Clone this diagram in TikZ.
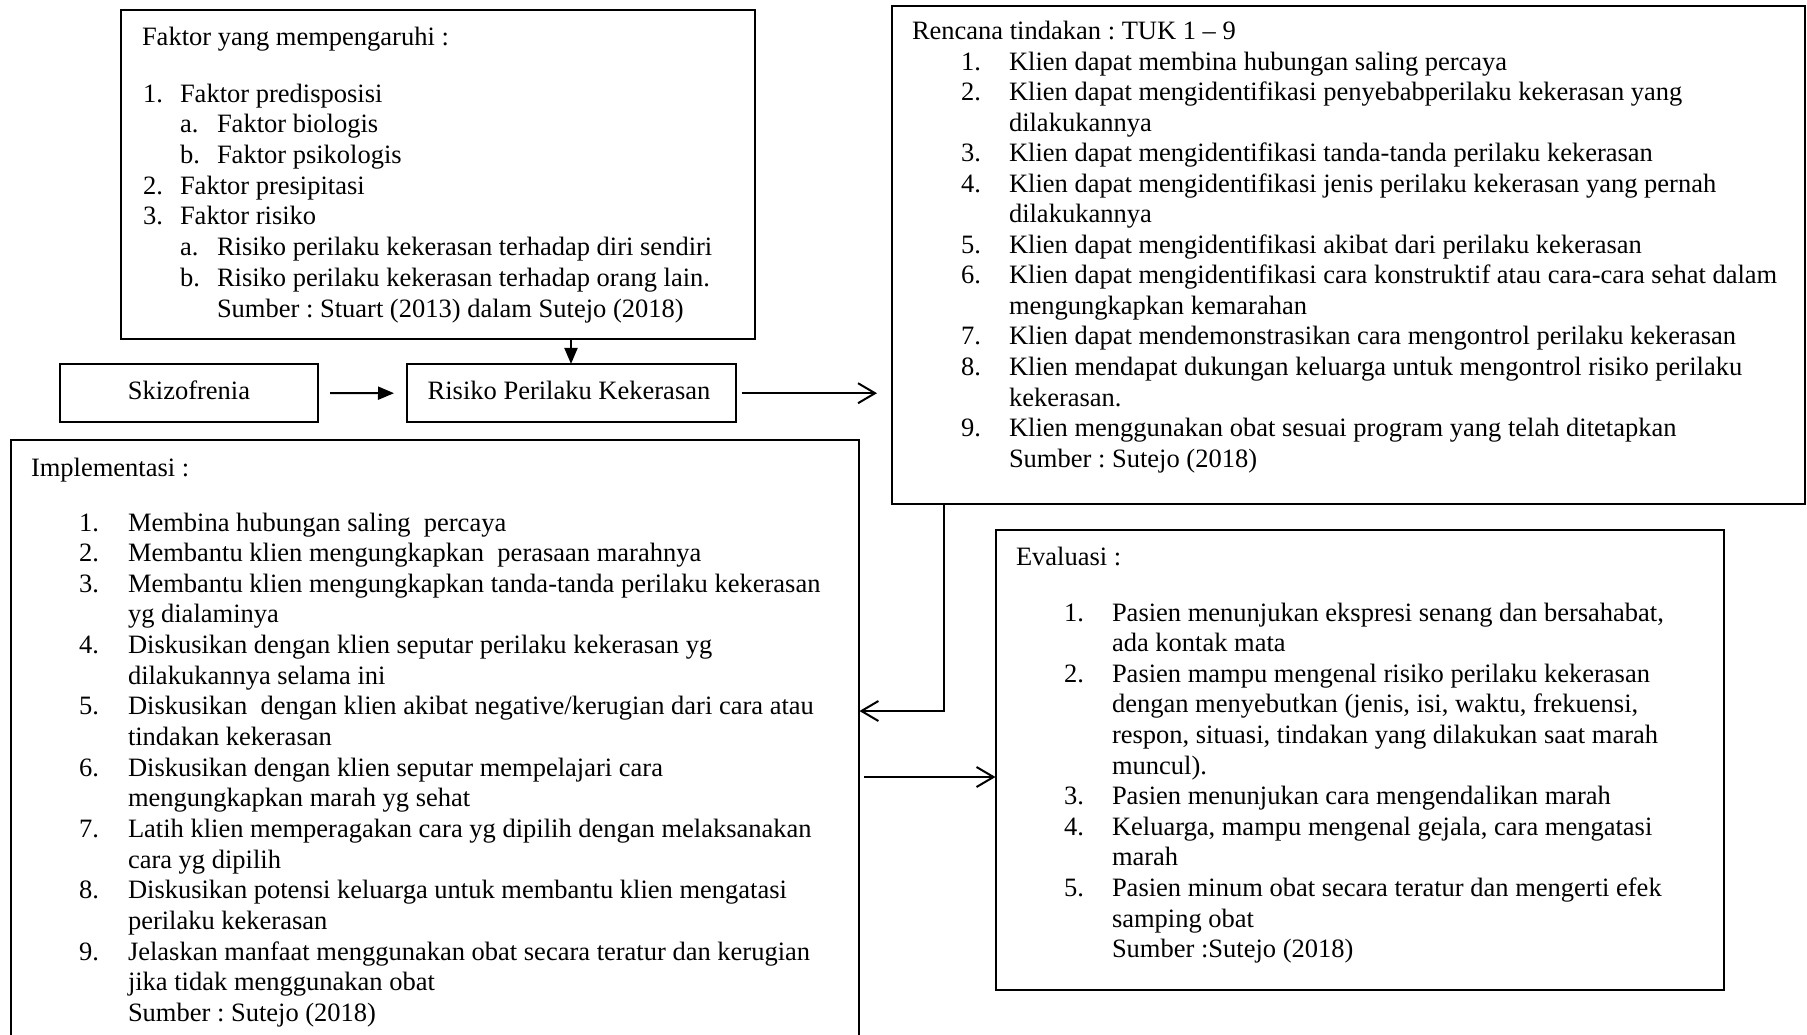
\documentclass[tikz,border=0pt]{standalone}
\usepackage{fontspec}
\setmainfont{Liberation Serif}
\usetikzlibrary{arrows.meta,calc}
\frenchspacing
\newcommand\fs{\fontsize{26.5}{30.7}\selectfont\frenchspacing}
\tikzset{
  box/.style={draw, line width=2pt, rectangle, inner sep=0pt, outer sep=0pt},
  txt/.style={anchor=base west, inner sep=0pt, outer sep=0pt, font=\fs},
  ctxt/.style={anchor=base, inner sep=0pt, outer sep=0pt, font=\fs},
  arr/.style={line width=2pt, -{Triangle[length=16pt,width=13pt]}},
  oarr/.style={line width=2pt, -{Straight Barb[length=17pt,width=20pt]}}
}
\begin{document}
\begin{tikzpicture}[x=1pt,y=-1pt]
\useasboundingbox (0,0) rectangle (1807,1034);
\fill[white] (0,0) rectangle (1807,1034);

% boxes
\node[box, minimum width=634pt, minimum height=329pt] (fak) at (438,174.5) {};
\node[box, minimum width=258pt, minimum height=58pt] (skz) at (189,393) {};
\node[box, minimum width=329pt, minimum height=58.5pt] (rpk) at (571,393.2) {};
\node[box, line width=2.4pt, minimum width=913pt, minimum height=498pt] (ren) at (1348.5,255) {};
\node[box, minimum width=848.5pt, minimum height=640pt] (imp) at (435.2,760) {};
\node[box, minimum width=728pt, minimum height=460pt] (eva) at (1359.5,760) {};

% Faktor box text
\node[txt] (f0) at (142,45) {Faktor yang mempengaruhi :};
\node[txt] (f1n) at (143,102) {1.};
\node[txt] (f1t) at (180,102) {Faktor predisposisi};
\node[txt] (f2n) at (180,132.7) {a.};
\node[txt] (f2t) at (217,132.7) {Faktor biologis};
\node[txt] (f3n) at (180,163.4) {b.};
\node[txt] (f3t) at (217,163.4) {Faktor psikologis};
\node[txt] (f4n) at (143,194) {2.};
\node[txt] (f4t) at (180,194) {Faktor presipitasi};
\node[txt] (f5n) at (143,224.8) {3.};
\node[txt] (f5t) at (180,224.8) {Faktor risiko};
\node[txt] (f6n) at (180,255.5) {a.};
\node[txt] (f6t) at (217,255.5) {Risiko perilaku kekerasan terhadap diri sendiri};
\node[txt] (f7n) at (180,286.2) {b.};
\node[txt] (f7t) at (217,286.2) {Risiko perilaku kekerasan terhadap orang lain.};
\node[txt] (f8t) at (217,317) {Sumber : Stuart (2013) dalam Sutejo (2018)};

% small boxes text
\node[ctxt] (skzt) at (189,399) {Skizofrenia};
\node[ctxt] (rpkt) at (569,399) {Risiko Perilaku Kekerasan};

% Rencana box text
\node[txt] (r0) at (912,39) {Rencana tindakan : TUK 1 – 9};
\foreach \nm/\tx [count=\k from 0] in {
  {1.}/{Klien dapat membina hubungan saling percaya},
  {2.}/{Klien dapat mengidentifikasi penyebabperilaku kekerasan yang},
  {}/{dilakukannya},
  {3.}/{Klien dapat mengidentifikasi tanda-tanda perilaku kekerasan},
  {4.}/{Klien dapat mengidentifikasi jenis perilaku kekerasan yang pernah},
  {}/{dilakukannya},
  {5.}/{Klien dapat mengidentifikasi akibat dari perilaku kekerasan},
  {6.}/{Klien dapat mengidentifikasi cara konstruktif atau cara-cara sehat dalam},
  {}/{mengungkapkan kemarahan},
  {7.}/{Klien dapat mendemonstrasikan cara mengontrol perilaku kekerasan},
  {8.}/{Klien mendapat dukungan keluarga untuk mengontrol risiko perilaku},
  {}/{kekerasan.},
  {9.}/{Klien menggunakan obat sesuai program yang telah ditetapkan},
  {}/{Sumber : Sutejo (2018)}}{
  \node[txt] (rn\k) at (961,{70+30.55*\k}) {\nm};
  \node[txt] (rt\k) at (1009,{70+30.55*\k}) {\tx};
}

% Implementasi box text
\node[txt] (i0) at (31,476) {Implementasi :};
\foreach \nm/\tx [count=\k from 0] in {
  {1.}/{Membina hubungan saling~ percaya},
  {2.}/{Membantu klien mengungkapkan~ perasaan marahnya},
  {3.}/{Membantu klien mengungkapkan tanda-tanda perilaku kekerasan},
  {}/{yg dialaminya},
  {4.}/{Diskusikan dengan klien seputar perilaku kekerasan yg},
  {}/{dilakukannya selama ini},
  {5.}/{Diskusikan~ dengan klien akibat negative/kerugian dari cara atau},
  {}/{tindakan kekerasan},
  {6.}/{Diskusikan dengan klien seputar mempelajari cara},
  {}/{mengungkapkan marah yg sehat},
  {7.}/{Latih klien memperagakan cara yg dipilih dengan melaksanakan},
  {}/{cara yg dipilih},
  {8.}/{Diskusikan potensi keluarga untuk membantu klien mengatasi},
  {}/{perilaku kekerasan},
  {9.}/{Jelaskan manfaat menggunakan obat secara teratur dan kerugian},
  {}/{jika tidak menggunakan obat},
  {}/{Sumber : Sutejo (2018)}}{
  \node[txt] (in\k) at (79,{531+30.65*\k}) {\nm};
  \node[txt] (it\k) at (128,{531+30.65*\k}) {\tx};
}

% Evaluasi box text
\node[txt] (e0) at (1016,565) {Evaluasi :};
\foreach \nm/\tx [count=\k from 0] in {
  {1.}/{Pasien menunjukan ekspresi senang dan bersahabat,},
  {}/{ada kontak mata},
  {2.}/{Pasien mampu mengenal risiko perilaku kekerasan},
  {}/{dengan menyebutkan (jenis, isi, waktu, frekuensi,},
  {}/{respon, situasi, tindakan yang dilakukan saat marah},
  {}/{muncul).},
  {3.}/{Pasien menunjukan cara mengendalikan marah},
  {4.}/{Keluarga, mampu mengenal gejala, cara mengatasi},
  {}/{marah},
  {5.}/{Pasien minum obat secara teratur dan mengerti efek},
  {}/{samping obat},
  {}/{Sumber :Sutejo (2018)}}{
  \node[txt] (en\k) at (1064,{621+30.6*\k}) {\nm};
  \node[txt] (et\k) at (1112,{621+30.6*\k}) {\tx};
}

% connectors
\draw[arr] ([xshift=12pt]skz.east) -- ([xshift=-12.5pt]rpk.west);
\draw[arr] (rpk.north |- fak.south) -- (rpk.north);
\draw[oarr] ($(rpk.east)+(6,0)$) -- ($(ren.west |- rpk.east)+(-15,0)$);
\coordinate (rj) at (944,711);
\draw[oarr] (rj |- ren.south) -- (rj) -- (imp.east |- rj);
\coordinate (ie) at (930,777);
\draw[oarr] ($(imp.east |- ie)+(5,0)$) -- (eva.west |- ie);
\end{tikzpicture}
\end{document}
